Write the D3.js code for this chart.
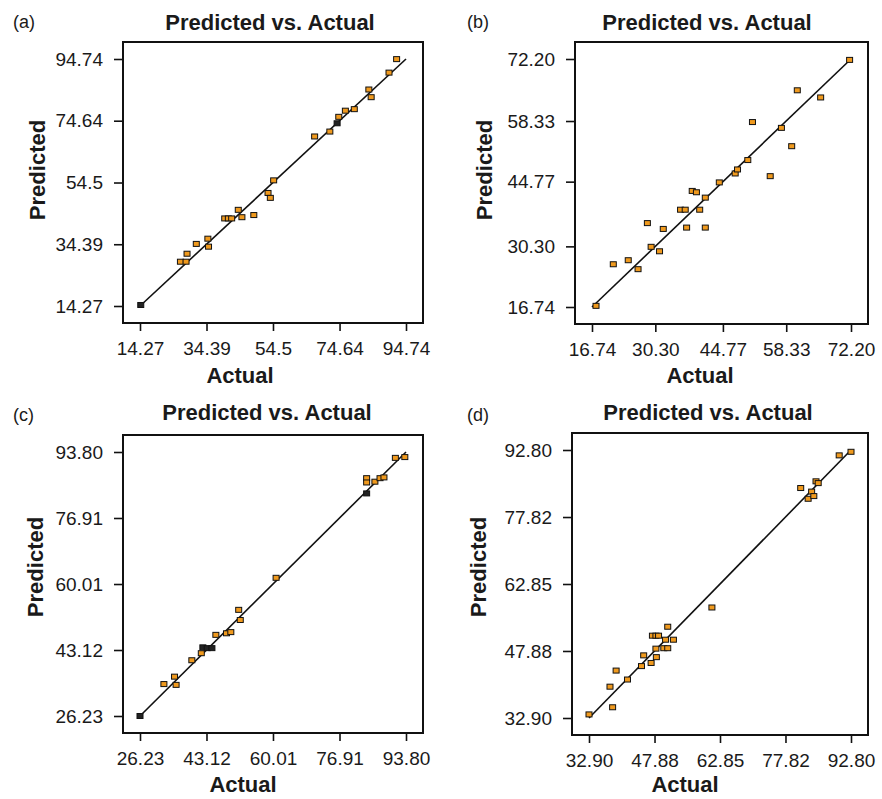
<!DOCTYPE html>
<html>
<head>
<meta charset="utf-8">
<script src="https://cdn.jsdelivr.net/npm/d3@7"></script>
<style>
  body { margin: 0; background: #fff; }
  svg { font-family: Arial, "Liberation Sans", sans-serif; }
</style>
</head>
<body>
<div id="chart"></div>
<script>
// Data
const panelNames = ["(a)", "(b)", "(c)", "(d)"];
const titleText = "Predicted vs. Actual";

const ticksA = [14.27, 34.39, 54.5, 74.64, 94.74];
const tickLabelsA = ["14.27", "34.39", "54.5", "74.64", "94.74"];
const actualA = [14.5, 26.5, 28.2, 28.5, 31.3, 34.8, 35.0, 39.9, 41.0, 42.0, 44.0, 45.1, 48.7, 53.0, 53.7, 54.7, 67.1, 71.7, 73.9, 74.4, 76.4, 79.1, 83.5, 84.2, 89.6, 91.9];
const predictedA = [14.6, 28.7, 28.7, 31.3, 34.5, 36.2, 33.6, 42.8, 42.8, 42.8, 45.6, 43.2, 43.9, 51.1, 49.5, 55.2, 69.5, 71.1, 73.8, 75.9, 77.9, 78.4, 84.8, 82.3, 90.3, 94.7];

const ticksB = [16.74, 30.30, 44.77, 58.33, 72.20];
const tickLabelsB = ["16.74", "30.30", "44.77", "58.33", "72.20"];
const actualB = [17.6, 21.3, 24.5, 26.6, 28.6, 29.4, 31.2, 32.0, 35.7, 36.7, 37.0, 38.2, 39.1, 39.8, 41.0, 41.0, 44.0, 47.4, 47.9, 50.1, 51.1, 54.9, 57.3, 59.5, 60.7, 65.7, 71.9];
const predictedB = [17.0, 26.3, 27.2, 25.2, 35.5, 30.2, 29.2, 34.2, 38.5, 38.5, 34.5, 42.7, 42.4, 38.5, 41.2, 34.5, 44.6, 46.6, 47.5, 49.6, 58.1, 46.0, 56.8, 52.7, 65.2, 63.6, 72.0];

const ticksC = [26.23, 43.12, 60.01, 76.91, 93.80];
const tickLabelsC = ["26.23", "43.12", "60.01", "76.91", "93.80"];
const actualC = [26.23, 32.3, 35.0, 35.4, 39.4, 41.8, 42.2, 43.3, 44.5, 45.5, 48.2, 49.3, 51.3, 51.7, 60.8, 83.8, 83.8, 83.8, 85.9, 87.2, 88.2, 91.1, 93.5];
const predictedC = [26.23, 34.4, 36.3, 34.2, 40.5, 42.3, 43.8, 43.6, 43.6, 47.0, 47.4, 47.7, 53.4, 50.8, 61.6, 83.2, 87.1, 86.0, 86.2, 87.1, 87.3, 92.3, 92.5];

const ticksD = [32.90, 47.88, 62.85, 77.82, 92.80];
const tickLabelsD = ["32.90", "47.88", "62.85", "77.82", "92.80"];
const actualD = [32.9, 37.7, 38.3, 39.1, 41.7, 44.9, 45.4, 47.1, 47.4, 48.2, 48.8, 48.3, 48.2, 50.0, 50.4, 50.9, 50.9, 52.2, 61.0, 81.3, 83.0, 83.8, 84.3, 84.8, 85.3, 90.1, 92.8];
const predictedD = [33.7, 39.9, 35.3, 43.5, 41.5, 44.5, 46.9, 45.2, 51.3, 51.3, 51.3, 46.5, 48.4, 48.5, 50.4, 48.5, 53.3, 50.4, 57.6, 84.3, 81.9, 83.5, 82.5, 85.8, 85.4, 91.6, 92.4];

// layout for each panel (pixel positions)
const panels = [
  { name: panelNames[0], ticks: ticksA, labels: tickLabelsA, actual: actualA, predicted: predictedA, dark: [0, 18],
    box: [123, 42, 423, 323], title: [270, 30], tag: [13, 28], xTitle: [240, 383], yTitle: [45, 170] },
  { name: panelNames[1], ticks: ticksB, labels: tickLabelsB, actual: actualB, predicted: predictedB, dark: [],
    box: [575, 42, 868, 324], title: [707, 30], tag: [467, 28], xTitle: [700, 383], yTitle: [492, 170] },
  { name: panelNames[2], ticks: ticksC, labels: tickLabelsC, actual: actualC, predicted: predictedC, dark: [0, 6, 7, 8, 15],
    box: [123, 435, 423, 733], title: [267, 420], tag: [13, 421], xTitle: [243, 792], yTitle: [43, 567] },
  { name: panelNames[3], ticks: ticksD, labels: tickLabelsD, actual: actualD, predicted: predictedD, dark: [],
    box: [572, 433, 868, 735], title: [708, 420], tag: [467, 421], xTitle: [685, 792], yTitle: [486, 567] }
];

const width = 882, height = 799;
const pad = 17;

const svg = d3.select("#chart").append("svg")
  .attr("width", width)
  .attr("height", height);

svg.append("rect").attr("width", width).attr("height", height).attr("fill", "#fff");

panels.forEach(p => {
  const [x0, y0, x1, y1] = p.box;
  const lo = p.ticks[0], hi = p.ticks[p.ticks.length - 1];

  const x = d3.scaleLinear().domain([lo, hi]).range([x0 + pad, x1 - pad]);
  const y = d3.scaleLinear().domain([lo, hi]).range([y1 - pad, y0 + pad]);

  const g = svg.append("g");

  // x axis
  const xAxis = g.append("g")
    .attr("transform", `translate(0,${y1})`)
    .call(d3.axisBottom(x).tickValues(p.ticks).tickFormat((d, i) => p.labels[i])
      .tickSize(8).tickSizeOuter(0).tickPadding(11));
  // y axis
  const yAxis = g.append("g")
    .attr("transform", `translate(${x0},0)`)
    .call(d3.axisLeft(y).tickValues(p.ticks).tickFormat((d, i) => p.labels[i])
      .tickSize(9).tickSizeOuter(0).tickPadding(11));

  [xAxis, yAxis].forEach(a => {
    a.select(".domain").remove();
    a.selectAll(".tick line").attr("stroke", "#111").attr("stroke-width", 1.6);
    a.selectAll(".tick text").attr("fill", "#1a1a1a").style("font-size", "19px").style("font-family", "Arial, 'Liberation Sans', sans-serif");
  });

  // plot frame
  g.append("rect")
    .attr("x", x0).attr("y", y0)
    .attr("width", x1 - x0).attr("height", y1 - y0)
    .attr("fill", "none").attr("stroke", "#111").attr("stroke-width", 2);

  // y = x line
  g.append("line")
    .attr("x1", x(lo)).attr("y1", y(lo))
    .attr("x2", x(hi)).attr("y2", y(hi))
    .attr("stroke", "#111").attr("stroke-width", 1.6);

  // points
  const pts = p.actual.map((a, i) => ({ a, b: p.predicted[i], dark: p.dark.includes(i) }));
  g.append("g").selectAll("rect")
    .data(pts)
    .join("rect")
    .attr("x", d => x(d.a) - 3)
    .attr("y", d => y(d.b) - 2.5)
    .attr("width", 6).attr("height", 5)
    .attr("fill", d => d.dark ? "#222" : "#f09a1e")
    .attr("stroke", "#111").attr("stroke-width", 1);

  // texts
  g.append("text")
    .attr("x", p.tag[0]).attr("y", p.tag[1])
    .style("font-size", "18px").attr("fill", "#1a1a1a")
    .text(p.name);

  g.append("text")
    .attr("x", p.title[0]).attr("y", p.title[1])
    .attr("text-anchor", "middle")
    .style("font-size", "22px").style("font-weight", "bold").attr("fill", "#1a1a1a")
    .text(titleText);

  g.append("text")
    .attr("x", p.xTitle[0]).attr("y", p.xTitle[1])
    .attr("text-anchor", "middle")
    .style("font-size", "22px").style("font-weight", "bold").attr("fill", "#1a1a1a")
    .text("Actual");

  g.append("text")
    .attr("transform", `translate(${p.yTitle[0]},${p.yTitle[1]}) rotate(-90)`)
    .attr("text-anchor", "middle")
    .style("font-size", "22px").style("font-weight", "bold").attr("fill", "#1a1a1a")
    .text("Predicted");
});
</script>
</body>
</html>
